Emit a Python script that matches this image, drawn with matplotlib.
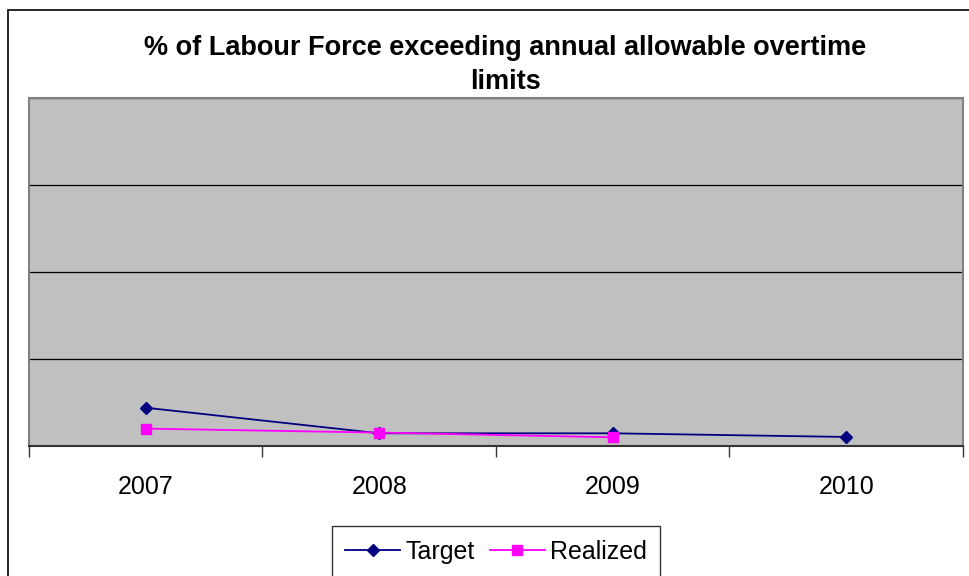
import matplotlib.pyplot as plt
from matplotlib.patches import Rectangle
from matplotlib.lines import Line2D

plt.rcParams['font.family'] = ['Liberation Sans', 'DejaVu Sans']

# Datos (escala de la rejilla supuesta 0-20)
years = ['2007', '2008', '2009', '2010']
target = [2.2, 0.73, 0.73, 0.52]
realized = [1.0, 0.77, 0.5]

title = '% of Labour Force exceeding annual allowable overtime\nlimits'

fig = plt.figure(figsize=(9.7, 5.76), dpi=100)
fig.patch.set_facecolor('white')

# Borde exterior del área del gráfico (se sale por la derecha y por abajo)
fig.patches.append(Rectangle((8 / 970, -0.1), 1.2, 1 - 10 / 576 + 0.1,
                             transform=fig.transFigure, fill=False,
                             edgecolor='black', linewidth=1.2))

ax = fig.add_axes([29 / 970, 1 - 446 / 576, (963 - 29) / 970, (446 - 98) / 576])
ax.set_facecolor('#c0c0c0')

x = list(range(len(years)))
ax.plot(x, target, color='#000080', marker='D', markersize=6.5,
        linewidth=1.3, label='Target', zorder=3)
ax.plot(x[:len(realized)], realized, color='#ff00ff', marker='s', markersize=7,
        linewidth=1.3, label='Realized', zorder=3)

ax.set_xlim(-0.5, 3.5)
ax.set_ylim(0, 20)
ax.set_yticks([0, 5, 10, 15, 20])
ax.yaxis.grid(True, color='black', linewidth=0.9)
ax.tick_params(axis='y', length=0, labelleft=False)
ax.set_axisbelow(True)

ax.set_xticks(x)
ax.set_xticklabels(years, fontsize=18)
ax.set_xticks([-0.5, 0.5, 1.5, 2.5, 3.5], minor=True)
ax.tick_params(axis='x', which='major', length=0, pad=21)
ax.tick_params(axis='x', which='minor', length=8, width=1, color='#333333')

for side in ['left', 'top', 'right']:
    ax.spines[side].set_color('#808080')
    ax.spines[side].set_linewidth(1.5)
ax.spines['bottom'].set_color('#333333')
ax.spines['bottom'].set_linewidth(1.5)

fig.text(505 / 970, 1 - 65 / 576, title, ha='center', va='center',
         fontsize=19.5, fontweight='bold', linespacing=1.4)

handles = [Line2D([], [], color='#000080', marker='D', markersize=6.5, linewidth=1.3),
           Line2D([], [], color='#ff00ff', marker='s', markersize=7, linewidth=1.3)]
leg = fig.legend(handles, ['Target', 'Realized'], loc='center',
                 bbox_to_anchor=(496 / 970, 1 - 552 / 576), ncol=2,
                 fontsize=18, frameon=True, fancybox=False,
                 handlelength=2.2, handletextpad=0.2, columnspacing=0.6,
                 borderpad=0.55)
leg.get_frame().set_edgecolor('black')
leg.get_frame().set_linewidth(1.0)

plt.savefig('out.png', dpi=100)
